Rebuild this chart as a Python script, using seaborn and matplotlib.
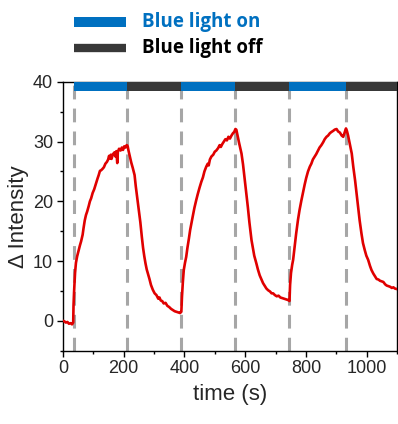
import numpy as np
import pandas as pd
import seaborn as sns
import matplotlib.pyplot as plt
from matplotlib.lines import Line2D
from matplotlib.ticker import MultipleLocator

# ---- data ----
t0 = [0, 5, 10, 15, 20, 25, 30, 34]
y0 = [0, -0.1, -0.3, -0.2, -0.5, -0.4, -0.6, -0.3]

t1 = [35, 37, 40, 43, 47, 52, 56, 60, 65, 68, 72, 76, 80, 85, 89, 93, 98, 103,
      109, 114, 118, 122, 126, 130, 135, 140, 145, 149, 152, 155, 158, 160, 165,
      170, 173, 176, 179, 181, 185, 190, 194, 198, 202, 206, 210, 213]
y1 = [2.5, 5, 8, 9.7, 10.8, 11.8, 12.6, 13.3, 14.4, 15.5, 16.8, 17.7, 18.3, 19.2,
      20.0, 20.5, 21.4, 22.0, 23.0, 23.8, 24.4, 25.1, 25.2, 25.4, 25.7, 26.3, 26.6,
      27.0, 27.6, 27.2, 27.8, 27.1, 27.9, 28.2, 27.5, 28.4, 26.4, 28.3, 28.8, 28.5,
      29.0, 28.6, 29.2, 29.0, 29.4, 29.3]

t2 = [216, 220, 225, 230, 236, 240, 245, 250, 255, 260, 264, 268, 272, 276, 280,
      285, 290, 296, 302, 308, 314, 318, 322, 327, 332, 338, 344, 350, 356, 362,
      368, 374, 380, 386, 389]
y2 = [28.5, 27.6, 26.5, 25.6, 24.4, 22.5, 20.5, 18.6, 16.5, 14.0, 12.2, 10.8, 9.6,
      8.6, 7.9, 7.0, 6.0, 5.2, 4.6, 4.3, 3.7, 3.9, 3.4, 3.3, 2.9, 3.0, 2.5, 2.3, 2.0,
      1.8, 1.6, 1.5, 1.4, 1.3, 1.5]

t3 = [390, 392, 395, 398, 402, 406, 410, 415, 419, 423, 428, 433, 439, 444, 450,
      456, 461, 466, 472, 477, 480, 484, 489, 495, 500, 505, 511, 516, 520, 525,
      530, 535, 540, 545, 550, 555, 560, 564, 568, 571]
y3 = [1.5, 4, 6.5, 8.5, 9.7, 10.7, 12.2, 13.8, 15.2, 16.3, 17.6, 18.9, 20.2, 21.2,
      22.3, 23.3, 24.0, 25.0, 25.8, 26.3, 26.0, 27.0, 27.5, 27.8, 28.3, 28.5, 28.9,
      29.4, 29.1, 29.6, 30.0, 30.4, 30.2, 30.8, 30.5, 31.0, 31.4, 31.6, 32.1, 32.0]

t4 = [575, 580, 584, 588, 593, 598, 604, 609, 614, 618, 621, 626, 630, 637, 642,
      648, 653, 659, 665, 670, 676, 682, 687, 692, 698, 704, 710, 716, 722, 728,
      734, 740, 744]
y4 = [31.0, 29.8, 28.9, 28.0, 26.2, 24.0, 21.3, 19.0, 16.5, 14.8, 13.5, 12.0, 10.9,
      9.6, 8.6, 7.6, 7.0, 6.3, 5.8, 5.4, 5.1, 4.9, 4.6, 4.6, 4.3, 4.1, 4.2, 3.9, 3.8,
      3.7, 3.6, 3.5, 3.4]

t5 = [746, 748, 751, 755, 758, 763, 768, 774, 779, 785, 791, 796, 801, 807, 813,
      818, 823, 829, 834, 840, 845, 851, 857, 862, 868, 873, 879, 884, 890, 895,
      901, 906, 912, 918, 923, 928, 932, 935]
y5 = [3.3, 6, 8, 9.4, 10.2, 12.4, 14.6, 16.9, 18.5, 20.1, 21.6, 22.8, 23.9, 25.0,
      25.8, 26.3, 27.0, 27.5, 27.9, 28.5, 29.0, 29.4, 29.9, 30.4, 30.8, 31.0, 31.4,
      31.6, 31.8, 32.0, 32.1, 31.7, 31.5, 31.0, 30.8, 31.6, 32.2, 31.8]

t6 = [939, 943, 947, 951, 956, 962, 967, 972, 977, 983, 988, 994, 999, 1005, 1011,
      1016, 1022, 1028, 1033, 1039, 1044, 1050, 1055, 1061, 1066, 1072, 1077, 1083,
      1088, 1093, 1100]
y6 = [31.0, 30.0, 29.0, 28.0, 25.8, 23.5, 21.3, 19.0, 16.8, 14.6, 13.0, 11.8, 10.9,
      10.2, 9.2, 8.5, 7.9, 7.4, 7.0, 6.9, 6.7, 6.6, 6.5, 6.1, 5.9, 5.8, 5.7, 5.5,
      5.6, 5.4, 5.3]

switch_times = [35, 210, 390, 566, 745, 931]
bar_colors = ['#0070C0', '#383838', '#0070C0', '#383838', '#0070C0', '#383838']

df = pd.DataFrame({'time': t0 + t1 + t2 + t3 + t4 + t5 + t6,
                   'intensity': y0 + y1 + y2 + y3 + y4 + y5 + y6})

sns.set_style('ticks')
plt.rcParams['font.family'] = ['Liberation Sans', 'DejaVu Sans']

fig = plt.figure(figsize=(3.98, 4.24), dpi=100)
ax = fig.add_axes([0.158, 0.173, 0.8395, 0.634])

# dashed switch lines
for x in switch_times:
    ax.axvline(x, color='#A6A6A6', lw=2.2, dashes=(4.5, 3), zorder=1)

sns.lineplot(data=df, x='time', y='intensity', color='#E00000', lw=1.9, ax=ax,
             zorder=3, sort=False)

# top light-state bar
ends = switch_times[1:] + [1100]
for s, e, c in zip(switch_times, ends, bar_colors):
    ax.fill_between([s, e], 38.5, 40, color=c, lw=0, zorder=4)

ax.set_xlim(0, 1100)
ax.set_ylim(-5, 40)
ax.xaxis.set_major_locator(MultipleLocator(200))
ax.xaxis.set_minor_locator(MultipleLocator(100))
ax.yaxis.set_major_locator(MultipleLocator(10))
ax.yaxis.set_minor_locator(MultipleLocator(5))
ax.tick_params(which='major', length=4, width=1, labelsize=13, color='black',
               pad=3)
ax.tick_params(which='minor', length=2.5, width=1, color='black')
for sp in ax.spines.values():
    sp.set_color('black')
    sp.set_linewidth(1)
ax.set_xlabel('time (s)', fontsize=16, labelpad=5)
ax.set_ylabel('Δ Intensity', fontsize=16, labelpad=3)

# legend drawn at the top
leg_font = ['Open Sans', 'DejaVu Sans']
fig.add_artist(Line2D([0.186, 0.317], [0.949, 0.949], color='#0070C0', lw=7.2,
                      solid_capstyle='butt', transform=fig.transFigure))
fig.add_artist(Line2D([0.186, 0.317], [0.886, 0.886], color='#383838', lw=6.0,
                      solid_capstyle='butt', transform=fig.transFigure))
fig.text(0.357, 0.949, 'Blue light on', color='#0070C0', fontsize=13.5,
         fontweight='bold', va='center', family=leg_font)
fig.text(0.357, 0.886, 'Blue light off', color='black', fontsize=13.5,
         fontweight='bold', va='center', family=leg_font)

fig.savefig('out.png', dpi=100)
